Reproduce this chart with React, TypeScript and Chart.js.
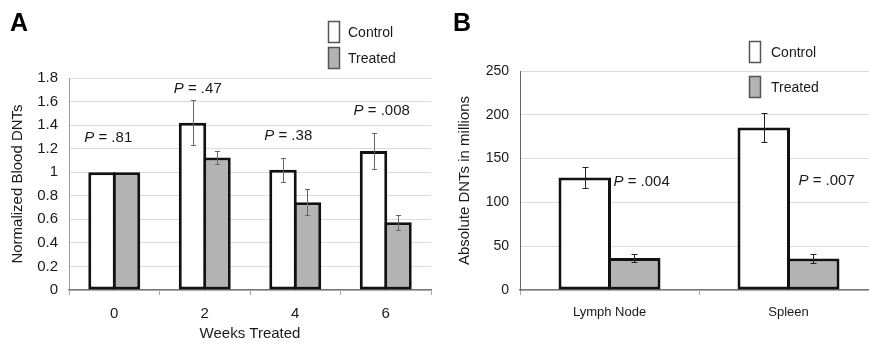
import React, { useEffect, useRef } from "react";
import { Chart, registerables } from "chart.js";

Chart.register(...registerables);

const FONT = "'Liberation Sans', Arial, Helvetica, sans-serif";
const TEXT = "#1a1a1a";

// ---------- Panel A data ----------
const weeks = ["0", "2", "4", "6"];
const controlA = [1.0, 1.42, 1.02, 1.18];
const treatedA = [1.0, 1.125, 0.745, 0.575];
const controlAErr = [0, 0.19, 0.105, 0.15];
const treatedAErr = [0, 0.055, 0.11, 0.065];
const pTextA = [".81", ".47", ".38", ".008"];
const pYA = [1.29, 1.71, 1.31, 1.52];
const yTickValuesA = [0, 0.2, 0.4, 0.6, 0.8, 1.0, 1.2, 1.4, 1.6, 1.8];
const yTickLabelsA = ["0", "0.2", "0.4", "0.6", "0.8", "1", "1.2", "1.4", "1.6", "1.8"];

// ---------- Panel B data ----------
const tissues = ["Lymph Node", "Spleen"];
const controlB = [128.5, 185.5];
const treatedB = [36.5, 36];
const controlBErr = [11.5, 17];
const treatedBErr = [5, 5];
const pTextB = [".004", ".007"];
const pYB = [123, 125];
const yTickValuesB = [0, 50, 100, 150, 200, 250];
const yTickLabelsB = ["0", "50", "100", "150", "200", "250"];

const seriesNames = ["Control", "Treated"];
const seriesFill = ["#ffffff", "#b3b3b3"];

const overlayPlugin: any = {
  id: "overlay",
  afterDatasetsDraw(chart: any, _args: any, opts: any) {
    const ctx: CanvasRenderingContext2D = chart.ctx;
    const xS = chart.scales.x;
    const yS = chart.scales.y;
    // error bars
    ctx.save();
    ctx.strokeStyle = opts.errColor;
    ctx.lineWidth = 1;
    opts.errors.forEach((errs: number[], di: number) => {
      const meta = chart.getDatasetMeta(di);
      const vals = chart.data.datasets[di].data as number[];
      meta.data.forEach((el: any, i: number) => {
        const e = errs[i];
        if (!e) return;
        const x = Math.round(el.x) + 0.5;
        const yT = Math.round(yS.getPixelForValue(vals[i] + e)) + 0.5;
        const yB = Math.round(yS.getPixelForValue(vals[i] - e)) + 0.5;
        const c = opts.capHalf;
        ctx.beginPath();
        ctx.moveTo(x, yT);
        ctx.lineTo(x, yB);
        if (c > 0) {
          ctx.moveTo(x - c, yT);
          ctx.lineTo(x + c, yT);
          ctx.moveTo(x - c, yB);
          ctx.lineTo(x + c, yB);
        }
        ctx.stroke();
      });
    });
    ctx.restore();

    // P value labels
    ctx.save();
    ctx.fillStyle = TEXT;
    ctx.textBaseline = "middle";
    ctx.textAlign = "left";
    const size = opts.pFontSize;
    const italic = `italic ${size}px ${FONT}`;
    const normal = `${size}px ${FONT}`;
    opts.pTexts.forEach((t: string, i: number) => {
      const rest = " = " + t;
      ctx.font = italic;
      const wP = ctx.measureText("P").width;
      ctx.font = normal;
      const wR = ctx.measureText(rest).width;
      const cx = xS.getPixelForValue(i) + opts.pOffsets[i];
      const y = yS.getPixelForValue(opts.pYs[i]);
      const x0 = opts.pAlign === "center" ? cx - (wP + wR) / 2 : cx;
      ctx.font = italic;
      ctx.fillText("P", x0, y);
      ctx.font = normal;
      ctx.fillText(rest, x0 + wP, y);
    });
    ctx.restore();
  },
  afterDraw(chart: any, _args: any, opts: any) {
    const ctx: CanvasRenderingContext2D = chart.ctx;
    const lg = opts.legend;
    ctx.save();
    seriesNames.forEach((name, i) => {
      ctx.fillStyle = seriesFill[i];
      ctx.strokeStyle = "#555";
      ctx.lineWidth = 1.5;
      ctx.fillRect(lg.x, lg.ys[i], lg.w, lg.h);
      ctx.strokeRect(lg.x, lg.ys[i], lg.w, lg.h);
      ctx.fillStyle = TEXT;
      ctx.font = `${lg.size}px ${FONT}`;
      ctx.textBaseline = "middle";
      ctx.textAlign = "left";
      ctx.fillText(name, lg.tx, lg.ys[i] + lg.h / 2 + 1);
    });
    const p = opts.panel;
    ctx.fillStyle = "#000";
    ctx.font = `bold 25px ${FONT}`;
    ctx.textBaseline = "top";
    ctx.fillText(p.text, p.x, p.y);
    ctx.restore();
  },
};

function makeConfig(o: {
  labels: string[];
  control: number[];
  treated: number[];
  yValues: number[];
  yLabels: string[];
  yTitle: string;
  yTitlePad: number;
  xTitle: string | null;
  xFont: number;
  yFont: number;
  pad: any;
  yWidth: number;
  catPct: number;
  barPct: number;
  overlay: any;
  yBorder: string;
}) {
  return {
    type: "bar" as const,
    data: {
      labels: o.labels,
      datasets: [
        {
          label: seriesNames[0],
          data: o.control,
          backgroundColor: seriesFill[0],
          borderColor: "#111",
          borderWidth: 3,
          borderSkipped: false,
        },
        {
          label: seriesNames[1],
          data: o.treated,
          backgroundColor: seriesFill[1],
          borderColor: "#111",
          borderWidth: 3,
          borderSkipped: false,
        },
      ],
    },
    options: {
      responsive: false,
      animation: false as const,
      layout: { padding: o.pad },
      datasets: { bar: { categoryPercentage: o.catPct, barPercentage: o.barPct } },
      plugins: {
        legend: { display: false },
        tooltip: { enabled: false },
        overlay: o.overlay,
      },
      scales: {
        x: {
          grid: {
            offset: true,
            drawOnChartArea: false,
            drawTicks: true,
            tickLength: 5,
            color: "#aaa",
          },
          border: { color: "#777", width: 1.5 },
          ticks: { color: TEXT, font: { family: FONT, size: o.xFont }, padding: 10 },
          title: {
            display: !!o.xTitle,
            text: o.xTitle || "",
            color: TEXT,
            font: { family: FONT, size: 15 },
            padding: { top: 0, bottom: 3 },
          },
          afterFit: (s: any) => {
            s.height = 56;
          },
        },
        y: {
          min: o.yValues[0],
          max: o.yValues[o.yValues.length - 1],
          afterBuildTicks: (s: any) => {
            s.ticks = o.yValues.map((v) => ({ value: v }));
          },
          ticks: {
            color: TEXT,
            font: { family: FONT, size: o.yFont },
            padding: 11,
            callback: (_v: any, i: number) => o.yLabels[i],
          },
          grid: { color: "#dcdcdc", drawTicks: false },
          border: { color: o.yBorder, width: 1 },
          title: {
            display: true,
            text: o.yTitle,
            color: TEXT,
            font: { family: FONT, size: 15 },
            padding: { top: o.yTitlePad, bottom: 0 },
          },
          afterFit: (s: any) => {
            s.width = o.yWidth;
          },
        },
      },
    },
    plugins: [overlayPlugin],
  };
}

function Panel(props: { left: number; width: number; height: number; config: () => any }) {
  const ref = useRef<HTMLCanvasElement>(null);
  useEffect(() => {
    const chart = new Chart(ref.current as HTMLCanvasElement, props.config());
    return () => chart.destroy();
  }, []);
  return (
    <canvas
      ref={ref}
      width={props.width}
      height={props.height}
      style={{ position: "absolute", left: props.left, top: 0, width: props.width, height: props.height }}
    />
  );
}

const configA = () =>
  makeConfig({
    labels: weeks,
    control: controlA,
    treated: treatedA,
    yValues: yTickValuesA,
    yLabels: yTickLabelsA,
    yTitle: "Normalized Blood DNTs",
    yTitlePad: 9,
    xTitle: "Weeks Treated",
    xFont: 15,
    yFont: 15,
    pad: { top: 78, right: 9, left: 0, bottom: 0 },
    yWidth: 69,
    catPct: 0.541,
    barPct: 1.122,
    yBorder: "#999",
    overlay: {
      errors: [controlAErr, treatedAErr],
      errColor: "#666",
      capHalf: 2.5,
      pTexts: pTextA,
      pYs: pYA,
      pOffsets: [-6, -7, -7, -4],
      pAlign: "center",
      pFontSize: 15,
      legend: { x: 328.5, ys: [21.5, 47.5], w: 11, h: 21, tx: 348, size: 14 },
      panel: { text: "A", x: 10, y: 12 },
    },
  });

const configB = () =>
  makeConfig({
    labels: tissues,
    control: controlB,
    treated: treatedB,
    yValues: yTickValuesB,
    yLabels: yTickLabelsB,
    yTitle: "Absolute DNTs in millions",
    yTitlePad: 16,
    xTitle: null,
    xFont: 13,
    yFont: 14,
    pad: { top: 71, right: 0, left: 0, bottom: 0 },
    yWidth: 80,
    catPct: 0.553,
    barPct: 1.0606,
    yBorder: "#666",
    overlay: {
      errors: [controlBErr, treatedBErr],
      errColor: "#222",
      capHalf: 3,
      pTexts: pTextB,
      pYs: pYB,
      pOffsets: [4, 10],
      pAlign: "left",
      pFontSize: 15,
      legend: { x: 309.5, ys: [41.5, 76.5], w: 11, h: 21, tx: 331, size: 14 },
      panel: { text: "B", x: 13, y: 12 },
    },
  });

export default function App() {
  return (
    <div
      style={{
        position: "fixed",
        left: 0,
        top: 0,
        width: 869,
        height: 346,
        overflow: "hidden",
        background: "#fff",
      }}
    >
      <Panel left={0} width={440} height={346} config={configA} />
      <Panel left={440} width={438} height={346} config={configB} />
    </div>
  );
}
